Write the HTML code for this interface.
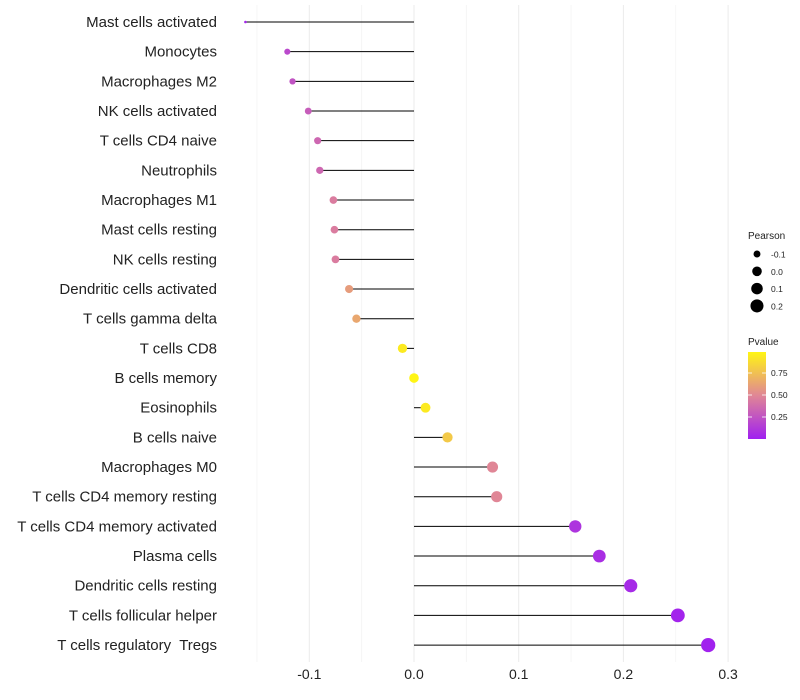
<!DOCTYPE html>
<html><head><meta charset="utf-8"><style>
body{margin:0;background:#fff;font-family:"Liberation Sans",sans-serif;}
svg{display:block}
text{white-space:pre}
</style></head><body>
<svg id="chart" width="800" height="700"></svg>
<script>
const categories=["Mast cells activated","Monocytes","Macrophages M2","NK cells activated","T cells CD4 naive","Neutrophils","Macrophages M1","Mast cells resting","NK cells resting","Dendritic cells activated","T cells gamma delta","T cells CD8","B cells memory","Eosinophils","B cells naive","Macrophages M0","T cells CD4 memory resting","T cells CD4 memory activated","Plasma cells","Dendritic cells resting","T cells follicular helper","T cells regulatory  Tregs"];
const pearson=[-0.161,-0.121,-0.116,-0.101,-0.092,-0.090,-0.077,-0.076,-0.075,-0.062,-0.055,-0.011,0.0,0.011,0.032,0.075,0.079,0.154,0.177,0.207,0.252,0.281];
const pvalue=[0.03,0.2,0.25,0.3,0.35,0.35,0.45,0.45,0.45,0.6,0.65,0.95,1.0,0.95,0.8,0.5,0.5,0.1,0.07,0.05,0.02,0.01];
const xTicks=[-0.1,0,0.1,0.2,0.3];
const xTickLabels=["-0.1","0.0","0.1","0.2","0.3"];
const sizeLegend=[-0.1,0,0.1,0.2];
const sizeLegendLabels=["-0.1","0.0","0.1","0.2"];
const colorTicks=[0.25,0.5,0.75];
const colorTickLabels=["0.25","0.50","0.75"];

const NS="http://www.w3.org/2000/svg";
const svg=document.getElementById('chart');
const X=v=>414+v*1047;
const Y=i=>22+i*29.67;
const pmin=Math.min(...pearson),pmax=Math.max(...pearson);
const R=p=>1.3+5.8*Math.sqrt(Math.max(0,(p-pmin)/(pmax-pmin)));
function lerp(a,b,t){return a+(b-a)*t;}
const stops=[[0,[160,32,240]],[0.5,[224,134,150]],[1,[255,245,20]]];
function col(v){v=Math.max(0,Math.min(1,v));let i=v<=0.5?0:1;const a=stops[i],b=stops[i+1];const t=(v-a[0])/(b[0]-a[0]);
 return `rgb(${a[1].map((c,k)=>Math.round(lerp(c,b[1][k],t))).join(',')})`;}
function el(tag,attrs,parent){const e=document.createElementNS(NS,tag);for(const k in attrs)e.setAttribute(k,attrs[k]);(parent||svg).appendChild(e);return e;}

[-0.15,-0.05,0.05,0.15,0.25].forEach(v=>{const g=el('line',{x1:X(v),x2:X(v),y1:5,y2:662,stroke:'#f4f4f4','stroke-width':0.8});

});
xTicks.forEach((v,i)=>{const g=el('line',{x1:X(v),x2:X(v),y1:5,y2:662,stroke:'#ebebeb','stroke-width':1});


const t=el('text',{x:X(v),y:679,'text-anchor':'middle','font-size':14,fill:'#222'});t.textContent=xTickLabels[i];

});
categories.forEach((c,i)=>{
 const t=el('text',{x:217,y:Y(i)+5,'text-anchor':'end','font-size':15,fill:'#222'});t.textContent=c;
 
 
 const l=el('line',{x1:X(0),x2:X(pearson[i]),y1:Y(i),y2:Y(i),stroke:'#000','stroke-width':1});
 
 
 const p=el('circle',{cx:X(pearson[i]),cy:Y(i),r:R(pearson[i]),fill:col(pvalue[i])});
 
 
});
const st=el('text',{x:748,y:239,'font-size':10,fill:'#222'});st.textContent='Pearson';


sizeLegend.forEach((v,i)=>{const y=254+i*17.3;
 const c=el('circle',{cx:757,cy:y,r:R(v),fill:'#000'});
 
 
 const t=el('text',{x:771,y:y+3.5,'font-size':8.5,fill:'#222'});t.textContent=sizeLegendLabels[i];
 
 });
const ct=el('text',{x:748,y:345,'font-size':10,fill:'#222'});ct.textContent='Pvalue';


const defs=el('defs',{});const lg=el('linearGradient',{id:'cg',x1:0,y1:1,x2:0,y2:0},defs);
[0,0.25,0.5,0.75,1].forEach(s=>el('stop',{offset:s,'stop-color':col(s)},lg));
const bar=el('rect',{x:748,y:352,width:18,height:87,fill:'url(#cg)'});


colorTicks.forEach((v,i)=>{const y=439-v*88;
 el('line',{x1:748,x2:752,y1:y,y2:y,stroke:'#fff','stroke-width':0.8});
 el('line',{x1:762,x2:766,y1:y,y2:y,stroke:'#fff','stroke-width':0.8});
 const t=el('text',{x:771,y:y+3,'font-size':8.5,fill:'#222'});t.textContent=colorTickLabels[i];
 
 });
</script>
</body></html>
